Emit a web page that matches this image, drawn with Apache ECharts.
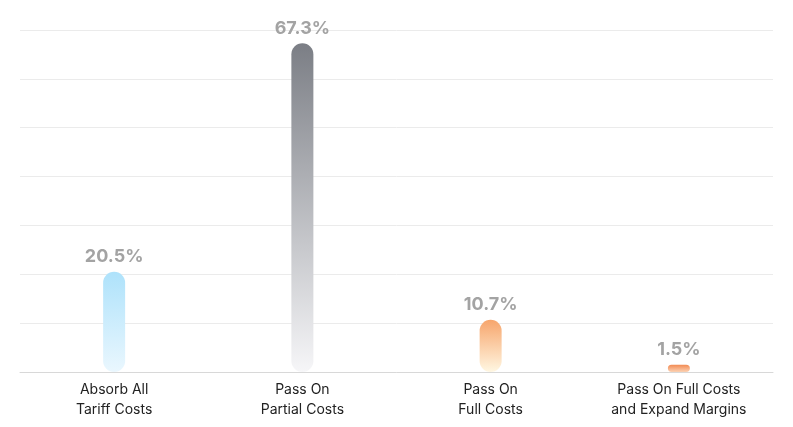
<!DOCTYPE html>
<html><head><meta charset="utf-8">
<script src="https://cdn.jsdelivr.net/npm/echarts@6/dist/echarts.min.js"></script>
<style>html,body{margin:0;padding:0;background:#fff}#c{width:793px;height:427px}</style>
</head><body><div id="c"></div>
<script>
const categories = ["Absorb All\nTariff Costs", "Pass On\nPartial Costs", "Pass On\nFull Costs", "Pass On Full Costs\nand Expand Margins"];
const values = [20.5, 67.3, 10.7, 1.5];
const gradients = [
  ["#aee2fb", "#eaf7fe"],
  ["#7b7e85", "#f6f6f8"],
  ["#f7a56c", "#fff7e2"],
  ["#f28a52", "#fcd2b4"]
];
const chart = echarts.init(document.getElementById('c'));
chart.setOption({
  animation: false,
  grid: {left: 20, right: 20, top: 30, bottom: 55},
  xAxis: {
    type: 'category', data: categories,
    axisLine: {lineStyle: {color: '#d8d8d8'}}, axisTick: {show: false},
    axisLabel: {color: '#222', fontSize: 14, lineHeight: 20, margin: 8, fontFamily: 'Inter'}
  },
  yAxis: {
    type: 'value', min: 0, max: 70, interval: 10,
    axisLabel: {show: false},
    splitLine: {lineStyle: {color: '#ebebeb'}}
  },
  series: [{
    type: 'bar', barWidth: 22,
    data: values.map((v, i) => ({
      value: v,
      itemStyle: {
        borderRadius: 11,
        color: new echarts.graphic.LinearGradient(0, 0, 0, 1, [
          {offset: 0, color: gradients[i][0]}, {offset: 1, color: gradients[i][1]}
        ])
      }
    })),
    label: {show: true, position: 'top', distance: 6, formatter: p => p.value.toFixed(1) + '%',
      color: '#a3a3a3', fontSize: 18, fontWeight: 'bold', fontFamily: 'Inter'}
  }]
});
</script></body></html>
